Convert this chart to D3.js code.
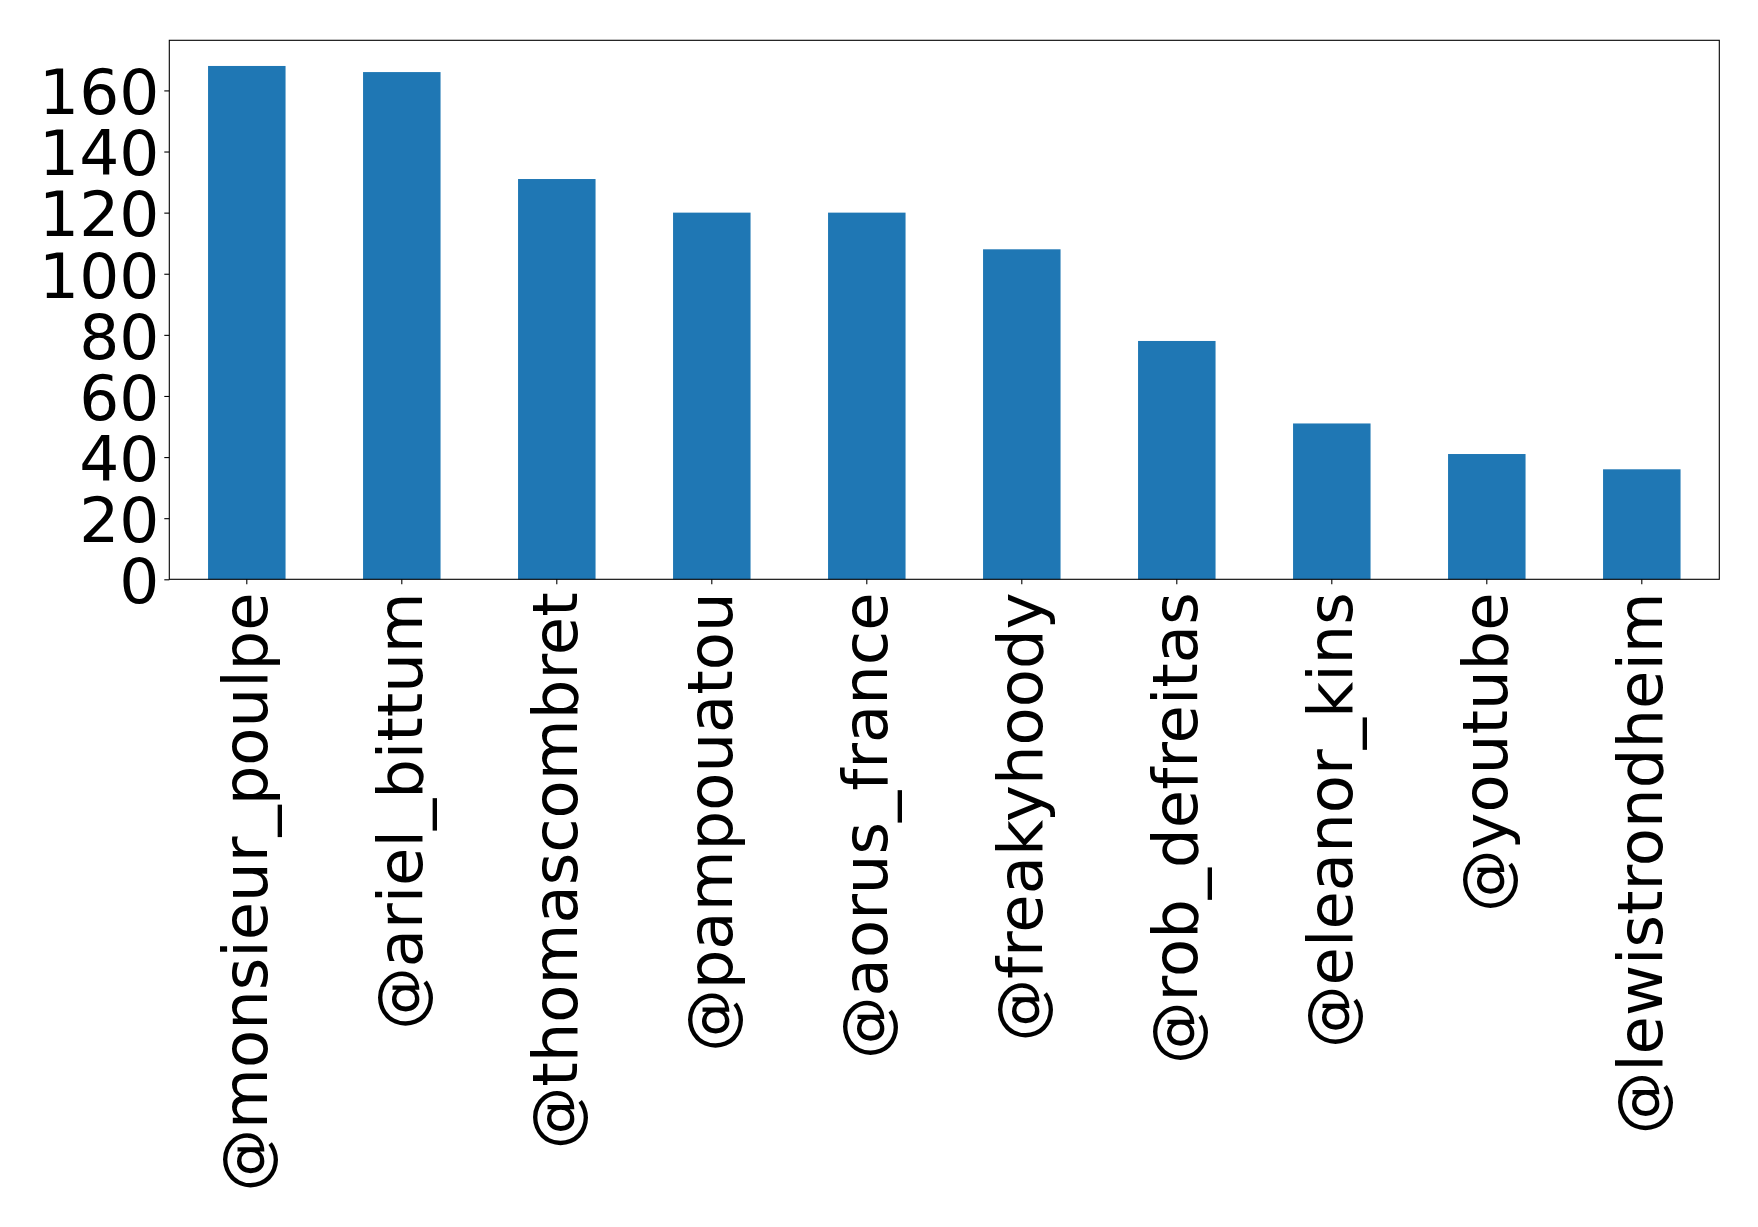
<!DOCTYPE html>
<html>
<head>
<meta charset="utf-8">
<script src="https://cdn.jsdelivr.net/npm/d3@7"></script>
<style>
  html, body { margin: 0; padding: 0; background: #fff; }
  svg { display: block; }
  text { font-family: "DejaVu Sans", sans-serif; fill: #000; }
</style>
</head>
<body>
<svg id="chart" width="1758" height="1227"></svg>
<script>
const categories = ["@monsieur_poulpe", "@ariel_bittum", "@thomascombret", "@pampouatou", "@aorus_france",
                    "@freakyhoody", "@rob_defreitas", "@eleanor_kins", "@youtube", "@lewistrondheim"];
const values = [168, 166, 131, 120, 120, 108, 78, 51, 41, 36];
const yTicks = [0, 20, 40, 60, 80, 100, 120, 140, 160];

const W = 1758, H = 1227;
const m = { left: 169.3, right: 1719.3, top: 40.3, bottom: 579.3 };
const svg = d3.select("#chart");

const x = d3.scaleBand().domain(categories).range([m.left, m.right]).paddingInner(0.5).paddingOuter(0.25);
const y = d3.scaleLinear().domain([0, d3.max(values) * 1.05]).range([m.bottom, m.top]);

// bars
svg.append("g").selectAll("rect").data(values).join("rect")
  .attr("x", (d, i) => x(categories[i]))
  .attr("width", x.bandwidth())
  .attr("y", d => y(d))
  .attr("height", d => y(0) - y(d))
  .attr("fill", "#1f77b4");

// y axis
const yAxis = d3.axisLeft(y).tickValues(yTicks).tickSize(5).tickPadding(5).tickFormat(d3.format("d"));
const gy = svg.append("g").attr("transform", `translate(${m.left},0)`).call(yAxis);
gy.select(".domain").remove();
gy.selectAll(".tick line").attr("stroke", "#000").attr("stroke-width", 1.1);
gy.selectAll(".tick text").attr("font-size", 63).attr("font-family", "DejaVu Sans").attr("fill", "#000")
  .attr("dy", "0.37em");

// x axis
const xAxis = d3.axisBottom(x).tickSize(5).tickPadding(5);
const gx = svg.append("g").attr("transform", `translate(0,${m.bottom})`).call(xAxis);
gx.select(".domain").remove();
gx.selectAll(".tick line").attr("stroke", "#000").attr("stroke-width", 1.1);
gx.selectAll(".tick text")
  .attr("font-size", 62.5).attr("font-family", "DejaVu Sans").attr("fill", "#000")
  .attr("text-anchor", "end")
  .attr("transform", "rotate(-90)")
  .attr("x", -13).attr("y", 0).attr("dy", "0.32em");

// frame
svg.append("rect")
  .attr("x", m.left).attr("y", m.top)
  .attr("width", m.right - m.left).attr("height", m.bottom - m.top)
  .attr("fill", "none").attr("stroke", "#000").attr("stroke-width", 1.1);
</script>
</body>
</html>
